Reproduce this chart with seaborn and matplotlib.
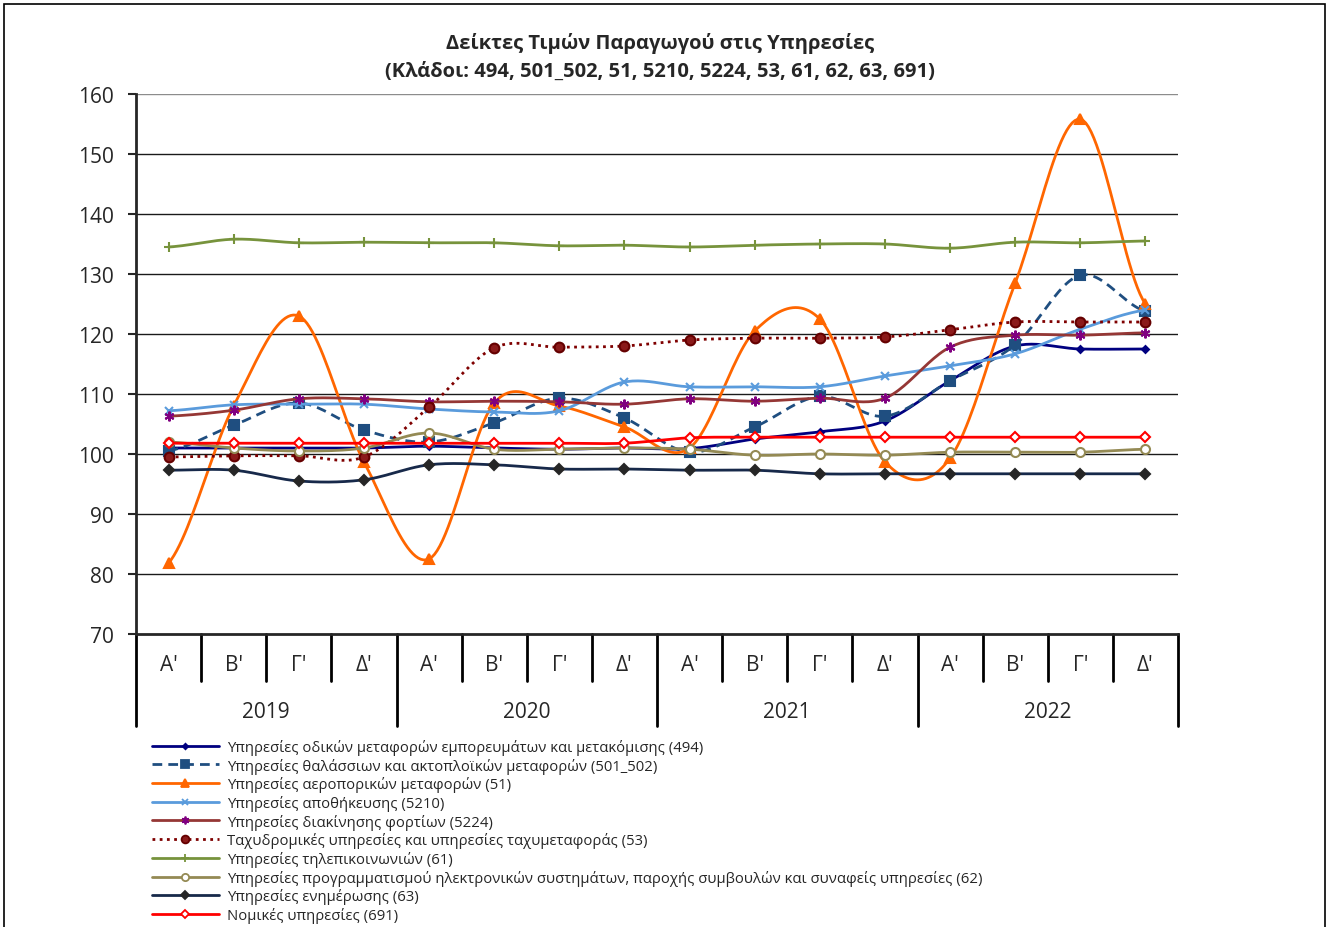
import numpy as np
import matplotlib
matplotlib.use("Agg")
import matplotlib.pyplot as plt
from matplotlib.lines import Line2D
from matplotlib.patches import Rectangle
import seaborn as sns

# quarters / years on the category axis
quarters = ["A'", "B'", "Γ'", "Δ'"] * 4
years = ["2019", "2020", "2021", "2022"]

# index values per sector
s494 = [101.0, 101.0, 101.0, 101.0, 101.3, 101.0, 100.8, 101.0,
        100.9, 102.5, 103.7, 105.5, 112.2, 118.0, 117.5, 117.5]
s501 = [100.5, 104.8, 108.5, 104.0, 102.0, 105.2, 109.3, 106.0,
        100.3, 104.5, 109.6, 106.3, 112.2, 118.2, 129.8, 123.8]
s51 = [81.8, 108.0, 123.0, 98.7, 82.5, 108.5, 108.0, 104.5,
       101.0, 120.5, 122.5, 98.7, 99.3, 128.5, 155.8, 125.0]
s5210 = [107.2, 108.2, 108.3, 108.3, 107.5, 107.0, 107.2, 112.0,
         111.2, 111.2, 111.2, 113.0, 114.7, 116.7, 120.8, 124.0]
s5224 = [106.3, 107.3, 109.2, 109.2, 108.7, 108.8, 108.7, 108.3,
         109.2, 108.8, 109.3, 109.3, 117.8, 119.8, 119.8, 120.2]
s53 = [99.5, 99.7, 99.7, 99.5, 107.8, 117.7, 117.8, 118.0,
       119.0, 119.3, 119.3, 119.5, 120.7, 122.0, 122.0, 122.0]
s61 = [134.5, 135.8, 135.2, 135.3, 135.2, 135.2, 134.7, 134.8,
       134.5, 134.8, 135.0, 135.0, 134.3, 135.3, 135.2, 135.5]
s62 = [102.0, 101.0, 100.5, 101.0, 103.5, 100.8, 100.8, 101.0,
       100.8, 99.8, 100.0, 99.8, 100.3, 100.3, 100.3, 100.8]
s63 = [97.3, 97.3, 95.5, 95.7, 98.2, 98.2, 97.5, 97.5,
       97.3, 97.3, 96.7, 96.7, 96.7, 96.7, 96.7, 96.7]
s691 = [101.8, 101.8, 101.8, 101.8, 101.8, 101.8, 101.8, 101.8,
        102.7, 102.8, 102.8, 102.8, 102.8, 102.8, 102.8, 102.8]

labels = [
    "Υπηρεσίες οδικών μεταφορών εμπορευμάτων και μετακόμισης (494)",
    "Υπηρεσίες θαλάσσιων και ακτοπλοϊκών μεταφορών (501_502)",
    "Υπηρεσίες αεροπορικών μεταφορών (51)",
    "Υπηρεσίες αποθήκευσης (5210)",
    "Υπηρεσίες διακίνησης φορτίων (5224)",
    "Ταχυδρομικές υπηρεσίες και υπηρεσίες ταχυμεταφοράς (53)",
    "Υπηρεσίες τηλεπικοινωνιών (61)",
    "Υπηρεσίες προγραμματισμού ηλεκτρονικών συστημάτων, παροχής συμβουλών και συναφείς υπηρεσίες (62)",
    "Υπηρεσίες ενημέρωσης (63)",
    "Νομικές υπηρεσίες (691)",
]
series = [s494, s501, s51, s5210, s5224, s53, s61, s62, s63, s691]

# line colour, linestyle, marker, marker size, marker face, marker edge
styles = [
    ("#000080", "-", "D", 3.5, "#000080", "#000080"),
    ("#1F4E80", (0, (3.5, 2.2)), "s", 6.5, "#1F4E80", "#1F4E80"),
    ("#FF6600", "-", "^", 7, "#FF6600", "#FF6600"),
    ("#5A9BDC", "-", "x", 6, "#5A9BDC", "#5A9BDC"),
    ("#953735", "-", (6, 2, 0), 7, "#800080", "#800080"),
    ("#7F0000", (0, (1, 1.6)), "o", 7, "#8B1A1A", "#650000"),
    ("#77933C", "-", "+", 7, "#77933C", "#77933C"),
    ("#948A54", "-", "o", 6.5, "white", "#948A54"),
    ("#17294A", "-", "D", 5, "#262626", "#262626"),
    ("#FF0000", "-", "D", 5, "white", "#FF0000"),
]


def smooth(vals, n=24):
    # Catmull-Rom curve, like the "smoothed line" option of a spreadsheet chart
    p = np.asarray(vals, dtype=float)
    q = np.concatenate([[p[0]], p, [p[-1]]])
    xs, ys = [], []
    t = np.linspace(0, 1, n, endpoint=False)
    for i in range(len(p) - 1):
        p0, p1, p2, p3 = q[i], q[i + 1], q[i + 2], q[i + 3]
        m1 = (p2 - p0) / 2
        m2 = (p3 - p1) / 2
        h00 = 2 * t**3 - 3 * t**2 + 1
        h10 = t**3 - 2 * t**2 + t
        h01 = -2 * t**3 + 3 * t**2
        h11 = t**3 - t**2
        ys.append(h00 * p1 + h10 * m1 + h01 * p2 + h11 * m2)
        xs.append(i + t)
    xs.append([len(p) - 1])
    ys.append([p[-1]])
    return np.concatenate(xs), np.concatenate(ys)


sns.set_style("white")
plt.rcParams["font.family"] = ["Open Sans", "DejaVu Sans"]

fig = plt.figure(figsize=(13.27, 9.28), dpi=100)
ax = fig.add_axes([136 / 1327, 1 - 635 / 928, 1042 / 1327, 540 / 928])

x = np.arange(len(quarters))
handles = []
for vals, lab, (col, ls, mk, ms, mfc, mec) in zip(series, labels, styles):
    sx, sy = smooth(vals)
    sns.lineplot(x=sx, y=sy, ax=ax, color=col, linestyle=ls, linewidth=2,
                 sort=False, estimator=None, legend=False)
    ax.plot(x, vals, linestyle="none", marker=mk, markersize=ms,
            markerfacecolor=mfc, markeredgecolor=mec, markeredgewidth=1.5)
    handles.append(Line2D([], [], color=col, linestyle=ls, linewidth=2, marker=mk,
                          markersize=ms * 0.8, markerfacecolor=mfc, markeredgecolor=mec,
                          markeredgewidth=1.3))

ax.set_xlim(-0.5, len(quarters) - 0.5)
ax.set_ylim(70, 160)
ax.set_yticks(np.arange(70, 161, 10))
ax.tick_params(axis="y", labelsize=15, length=6, width=1.5, pad=10, direction="out", left=True)
ax.set_xticks([])
ax.set_xlabel("")
ax.set_ylabel("")

for v in range(80, 161, 10):
    ax.axhline(v, color="#1a1a1a" if v < 160 else "#8c8c8c", linewidth=1, zorder=0)

for side in ["top", "right"]:
    ax.spines[side].set_visible(False)
ax.spines["left"].set_linewidth(2)
ax.spines["bottom"].set_linewidth(2)

# two-level category axis
tr = ax.get_xaxis_transform()
for i, q in enumerate(quarters):
    ax.text(i, -0.056, q, transform=tr, ha="center", va="center", fontsize=15)
for j, yr in enumerate(years):
    ax.text(j * 4 + 1.5, -0.143, yr, transform=tr, ha="center", va="center", fontsize=15)
for b in np.arange(-0.5, len(quarters), 1.0):
    bottom = -0.170 if (b + 0.5) % 4 == 0 else -0.087
    ax.plot([b, b], [0, bottom], transform=tr, color="black", linewidth=2, clip_on=False)

fig.text(660 / 1327, 1 - 43 / 928, "Δείκτες Τιμών Παραγωγού στις Υπηρεσίες",
         ha="center", va="center", fontsize=14.5, fontweight="bold")
fig.text(660 / 1327, 1 - 72 / 928, "(Κλάδοι: 494, 501_502, 51, 5210, 5224, 53, 61, 62, 63, 691)",
         ha="center", va="center", fontsize=14.5, fontweight="bold")

fig.legend(handles, labels, loc="upper left", bbox_to_anchor=(152 / 1327, 1 - 740 / 928),
           frameon=False, fontsize=10.7, handlelength=4.5, handletextpad=0.55,
           labelspacing=0.18, borderaxespad=0, borderpad=0)

fig.patches.append(Rectangle((4 / 1327, -0.01), 1321 / 1327, 1 - 5 / 928 + 0.01,
                             transform=fig.transFigure, fill=False,
                             edgecolor="black", linewidth=1.2))

fig.savefig("out.png", dpi=100)
